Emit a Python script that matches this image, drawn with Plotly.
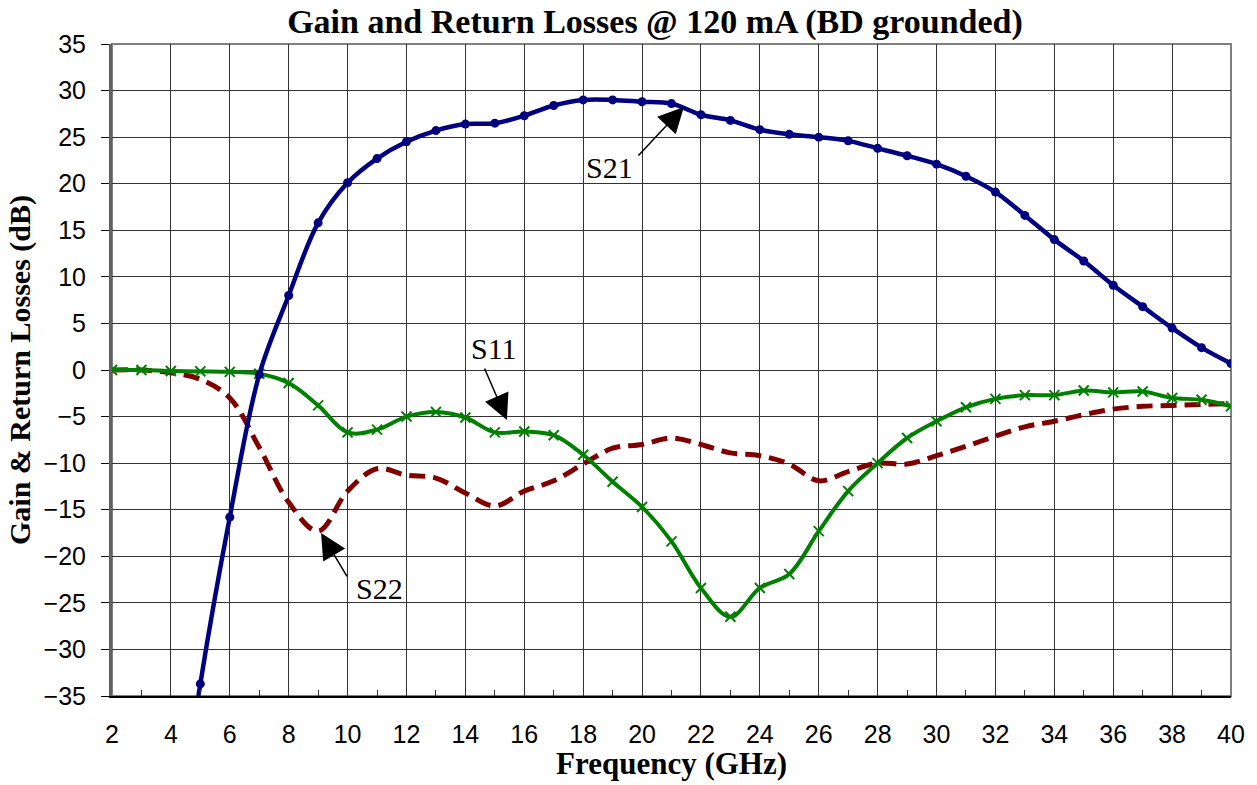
import plotly.graph_objects as go

freq = [2, 3, 4, 5, 6, 7, 8, 9, 10, 11, 12, 13, 14, 15, 16, 17, 18, 19, 20, 21,
        22, 23, 24, 25, 26, 27, 28, 29, 30, 31, 32, 33, 34, 35, 36, 37, 38, 39, 40]

s21 = [None, None, -56, -33.7, -15.8, -0.5, 8.0, 15.8, 20.1, 22.7, 24.5, 25.7, 26.4, 26.5,
       27.3, 28.4, 29.0, 29.0, 28.8, 28.6, 27.4, 26.8, 25.8, 25.3, 25.0, 24.6, 23.8, 23.0,
       22.1, 20.8, 19.1, 16.6, 14.0, 11.7, 9.1, 6.8, 4.5, 2.4, 0.7]

s11 = [0, 0, -0.1, -0.15, -0.2, -0.4, -1.4, -3.8, -6.7, -6.4, -5.0, -4.5, -5.1, -6.7,
       -6.6, -7.0, -9.1, -12.0, -14.7, -18.4, -23.4, -26.5, -23.4, -21.9, -17.3, -13.0,
       -10.0, -7.3, -5.5, -4.0, -3.1, -2.7, -2.7, -2.2, -2.4, -2.3, -3.0, -3.2, -3.9]

s22 = [0, 0, -0.3, -1.0, -3.0, -8.3, -14.2, -17.3, -13.0, -10.6, -11.3, -11.6, -13.2, -14.6,
       -13.0, -11.9, -10.1, -8.4, -8.0, -7.3, -8.0, -8.9, -9.2, -10.1, -11.9, -10.9, -10.0,
       -10.1, -9.2, -8.2, -7.1, -6.1, -5.5, -4.8, -4.2, -3.9, -3.8, -3.7, -3.6]

title_text = "Gain and Return Losses @ 120 mA (BD grounded)"
x_title = "Frequency (GHz)"
y_title = "Gain &amp; Return Losses (dB)"

# label text position, arrow tail, arrow head (data coords)
labels = [
    ("S21", (18.91, 21.69), (19.83, 22.87), (21.42, 28.24)),
    ("S11", (14.97, 2.36), (14.63, 0.32), (15.41, -5.37)),
    ("S22", (11.10, -23.51), (10.01, -22.33), (9.10, -17.5)),
]

SERIF = "Liberation Serif"
SANS = "Liberation Sans"

fig = go.Figure()

fig.add_trace(go.Scatter(
    x=freq, y=s22, mode="lines", name="S22",
    line=dict(color="#800000", width=5, dash="16px,8px", shape="spline", smoothing=1),
))
fig.add_trace(go.Scatter(
    x=freq, y=s11, mode="lines+markers", name="S11",
    line=dict(color="#008000", width=4, shape="spline", smoothing=1),
    marker=dict(symbol="x-thin", size=10, color="#008000",
                line=dict(color="#008000", width=2)),
))
fig.add_trace(go.Scatter(
    x=freq, y=s21, mode="lines+markers", name="S21",
    line=dict(color="#000080", width=4.5, shape="spline", smoothing=1),
    marker=dict(symbol="circle", size=9, color="#000080"),
    connectgaps=False,
))

annotations = []
for txt, tpos, tail, head in labels:
    annotations.append(dict(
        x=head[0], y=head[1], ax=tail[0], ay=tail[1], xref="x", yref="y",
        axref="x", ayref="y", text="", showarrow=True, arrowhead=2,
        arrowsize=3.4, arrowwidth=1.5, arrowcolor="black",
    ))
    annotations.append(dict(
        x=tpos[0], y=tpos[1], xref="x", yref="y", text=txt, showarrow=False,
        font=dict(family=SERIF, size=30, color="black"),
        xanchor="center", yanchor="middle",
    ))

annotations.append(dict(
    x=0.5, y=-0.1028, xref="paper", yref="paper", text=x_title, showarrow=False,
    font=dict(family=SERIF, size=31, color="black", weight="bold"),
    xanchor="center", yanchor="middle",
))
annotations.append(dict(
    x=-0.0822, y=0.5, xref="paper", yref="paper", text=y_title, showarrow=False,
    textangle=-90,
    font=dict(family=SERIF, size=30, color="black", weight="bold"),
    xanchor="center", yanchor="middle",
))

fig.update_layout(
    width=1257, height=785,
    margin=dict(l=112, r=26, t=44, b=89),
    paper_bgcolor="white", plot_bgcolor="white",
    showlegend=False,
    title=dict(text=title_text, x=655 / 1257, xanchor="center",
               y=1 - 21 / 785, yanchor="middle",
               font=dict(family=SERIF, size=34, color="black", weight="bold")),
    annotations=annotations,
    shapes=[dict(type="rect", xref="paper", yref="paper", x0=0, x1=1, y0=0, y1=1,
                 line=dict(color="#808080", width=2), layer="between")],
)

fig.update_xaxes(
    range=[2, 40], dtick=2, tick0=2, showgrid=True, gridcolor="#333333", gridwidth=1,
    showline=True, linecolor="black", linewidth=2, ticks="", zeroline=False,
    tickfont=dict(family=SANS, size=25, color="black"),
    ticklabelstandoff=15,
    minor=dict(dtick=1, tick0=2, ticks="inside", ticklen=6, tickcolor="#333333",
               showgrid=False),
)
fig.update_yaxes(
    range=[-35, 35], dtick=5, tick0=-35, showgrid=True, gridcolor="#333333", gridwidth=1,
    showline=True, linecolor="#606060", linewidth=3, ticks="outside", ticklen=8,
    tickcolor="black", zeroline=False,
    tickfont=dict(family=SANS, size=25, color="black"),
    ticklabelstandoff=10,
)

fig.write_html("out.html")
